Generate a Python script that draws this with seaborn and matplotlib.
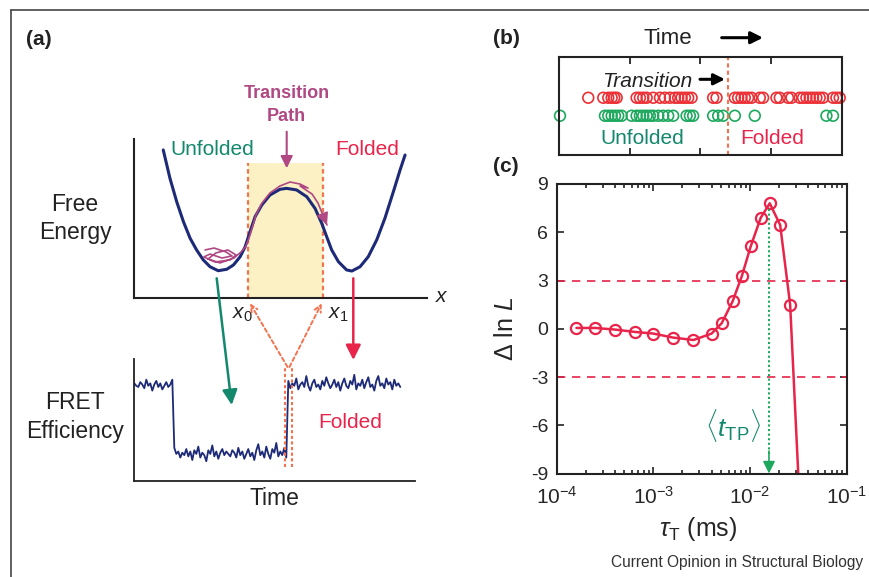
import numpy as np
import pandas as pd
import matplotlib
matplotlib.use("Agg")
import matplotlib.pyplot as plt
import seaborn as sns

# ---- panel (a): schematic double-well free energy along x ----
fe_x = [0.099, 0.122, 0.145, 0.168, 0.191, 0.213, 0.236, 0.259, 0.287, 0.316,
        0.339, 0.362, 0.379, 0.396, 0.413, 0.436, 0.464, 0.498, 0.521, 0.555,
        0.590, 0.618, 0.641, 0.658, 0.675, 0.698, 0.726, 0.744, 0.772, 0.800,
        0.829, 0.857, 0.886, 0.909, 0.926]
fe_g = [0.931, 0.752, 0.605, 0.479, 0.374, 0.301, 0.238, 0.195, 0.170, 0.179,
        0.206, 0.258, 0.321, 0.416, 0.510, 0.584, 0.647, 0.683, 0.689, 0.679,
        0.636, 0.563, 0.469, 0.384, 0.301, 0.227, 0.175, 0.168, 0.195, 0.258,
        0.364, 0.500, 0.668, 0.805, 0.899]

# transition-path trajectory (jiggles in the unfolded well, then crosses)
path_x = [0.242, 0.273, 0.314, 0.334, 0.300, 0.259, 0.238, 0.276, 0.327, 0.348,
          0.320, 0.279, 0.252, 0.293, 0.341, 0.365, 0.382, 0.392, 0.403, 0.416,
          0.437, 0.464, 0.498, 0.533, 0.567, 0.594, 0.567, 0.608, 0.628, 0.645,
          0.659]
path_y = [0.301, 0.313, 0.288, 0.263, 0.250, 0.275, 0.257, 0.225, 0.238, 0.269,
          0.301, 0.282, 0.244, 0.219, 0.250, 0.288, 0.326, 0.376, 0.439, 0.521,
          0.597, 0.660, 0.704, 0.729, 0.716, 0.691, 0.704, 0.653, 0.597, 0.521,
          0.458]

x0_pos, x1_pos = 0.390, 0.646
region_top = 0.847

# FRET efficiency trace: folded -> unfolded -> folded
fret_eff = [0.80, 0.78, 0.77, 0.81, 0.79, 0.76, 0.83, 0.78, 0.80, 0.74,
            0.79, 0.82, 0.77, 0.80, 0.75, 0.78, 0.81, 0.77, 0.79, 0.83,
            0.27, 0.22, 0.24, 0.19, 0.23, 0.21, 0.26, 0.20, 0.24, 0.17,
            0.25, 0.22, 0.28, 0.19, 0.23, 0.21, 0.16, 0.25, 0.22, 0.29,
            0.20, 0.24, 0.18, 0.23, 0.26, 0.21, 0.24, 0.22, 0.20, 0.25,
            0.23, 0.19, 0.27, 0.21, 0.24, 0.18, 0.22, 0.26, 0.20, 0.23,
            0.17, 0.25, 0.30, 0.21, 0.24, 0.19, 0.28, 0.22, 0.18, 0.26,
            0.23, 0.31, 0.20, 0.24, 0.21, 0.27, 0.19,
            0.82, 0.76, 0.80, 0.78, 0.84, 0.75, 0.79, 0.81, 0.77, 0.86,
            0.78, 0.74, 0.80, 0.83, 0.77, 0.79, 0.75, 0.82, 0.78, 0.85,
            0.80, 0.76, 0.79, 0.83, 0.77, 0.81, 0.74, 0.80, 0.84, 0.78,
            0.76, 0.82, 0.79, 0.87, 0.75, 0.80, 0.78, 0.83, 0.76, 0.81,
            0.85, 0.77, 0.79, 0.74, 0.82, 0.86, 0.78, 0.80, 0.76, 0.84,
            0.79, 0.81, 0.75, 0.83, 0.78, 0.80, 0.77]
jump_marks = [75.4, 78.7]

# ---- panel (b): photon arrival times ----
red_times = [0.414, 0.626, 0.697, 0.745, 0.782, 0.816, 1.098, 1.145, 1.192, 1.240,
             1.333, 1.428, 1.498, 1.569, 1.640, 1.686, 1.734, 1.781, 1.828, 1.876,
             2.181, 2.229, 2.488, 2.534, 2.582, 2.629, 2.676, 2.724, 2.841, 2.888,
             3.077, 3.124, 3.241, 3.289, 3.406, 3.453, 3.501, 3.548, 3.594, 3.642,
             3.689, 3.736, 3.877, 3.925, 3.972]
green_times = [0.014, 0.650, 0.697, 0.745, 0.792, 0.838, 0.886, 1.028, 1.098, 1.145,
               1.192, 1.240, 1.286, 1.333, 1.404, 1.474, 1.545, 1.616, 1.805, 1.852,
               1.898, 2.181, 2.252, 2.322, 2.488, 2.770, 3.784, 3.877]
transition_time = 2.39

# ---- panel (c): likelihood vs transition time ----
tau_ms = [1.6e-4, 2.5e-4, 4.0e-4, 6.5e-4, 1.0e-3, 1.6e-3, 2.6e-3, 4.0e-3, 5.1e-3,
          6.6e-3, 8.2e-3, 1.02e-2, 1.29e-2, 1.6e-2, 2.05e-2, 2.6e-2, 3.3e-2]
dlnL = [0.05, 0.05, -0.05, -0.2, -0.3, -0.55, -0.7, -0.3, 0.35,
        1.7, 3.25, 5.15, 6.9, 7.8, 6.45, 1.5, -11.5]
t_tp = 1.57e-2

NAVY = "#1d2a78"
TEAL = "#13886c"
RED = "#e8244a"
MAG = "#b04883"
ORANGE = "#f2734f"
YELLOW = "#fbf1c4"
GREEN_PT = "#1ea85e"
RED_PT = "#ec3035"
DARK = "#222222"

sns.set_theme(style="ticks")
plt.rcParams["font.family"] = ["Liberation Sans", "DejaVu Sans"]
plt.rcParams["mathtext.fontset"] = "custom"
plt.rcParams["mathtext.rm"] = "Liberation Sans"
plt.rcParams["mathtext.it"] = "Liberation Sans:italic"
plt.rcParams["mathtext.bf"] = "Liberation Sans:bold"
plt.rcParams["axes.unicode_minus"] = False

W, H = 869, 577
fig = plt.figure(figsize=(W / 100, H / 100), dpi=100)


def px_axes(l, t, r, b, **kw):
    return fig.add_axes([l / W, 1 - b / H, (r - l) / W, (b - t) / H], **kw)


def style_spines(ax, lw=1.5):
    for s in ax.spines.values():
        s.set_color(DARK)
        s.set_linewidth(lw)


# free energy
axfe = px_axes(134.3, 139, 426.7, 297.7)
axfe.fill_between([x0_pos, x1_pos], 0, region_top, color=YELLOW, lw=0)
for xv in (x0_pos, x1_pos):
    axfe.plot([xv, xv], [0, region_top], color=ORANGE, lw=1.6, ls=(0, (2, 1.5)))
sns.lineplot(x=fe_x, y=fe_g, ax=axfe, color=NAVY, lw=2.2, sort=False, estimator=None)
sns.lineplot(x=path_x, y=path_y, ax=axfe, color=MAG, lw=1.2, sort=False, estimator=None)
axfe.annotate("", xy=(path_x[-1], path_y[-1]), xytext=(path_x[-2], path_y[-2]),
              arrowprops=dict(arrowstyle="-|>,head_length=0.6,head_width=0.3",
                              color=MAG, lw=1.2, mutation_scale=12, shrinkA=0, shrinkB=0))
axfe.set(xlim=(0, 1), ylim=(0, 1), xticks=[], yticks=[], xlabel="", ylabel="")
sns.despine(ax=axfe)
style_spines(axfe)

# FRET trace
axfr = px_axes(134.3, 359, 415, 480.7)
sns.lineplot(x=np.arange(len(fret_eff)), y=fret_eff, ax=axfr, color=NAVY, lw=1.3)
axfr.vlines(jump_marks, 0.115, 0.937, colors=ORANGE, linestyles=(0, (1.5, 1.2)), lw=1.5)
axfr.set(xlim=(0, 140.35), ylim=(0, 1), xticks=[], yticks=[], xlabel="", ylabel="")
sns.despine(ax=axfr)
style_spines(axfr, 1.3)

# panel (b)
axb = px_axes(559, 56.7, 841.7, 155)
axb.axvline(transition_time, color=ORANGE, lw=1.5, ls=(0, (2, 1.5)))
sns.scatterplot(x=red_times, y=[1] * len(red_times), ax=axb, marker="o", s=60,
                facecolors="none", edgecolor=RED_PT, linewidth=1.2, clip_on=False)
sns.scatterplot(x=green_times, y=[0] * len(green_times), ax=axb, marker="o", s=60,
                facecolors="none", edgecolor=GREEN_PT, linewidth=1.2, clip_on=False)
axb.set(xlim=(0, 4), ylim=(-2.18, 3.28), xticks=[1, 2, 3], yticks=[], xlabel="", ylabel="")
axb.tick_params(axis="x", direction="in", top=True, bottom=True, labelbottom=False,
                length=5, width=1.3, color=DARK)
style_spines(axb)

# panel (c)
axc = px_axes(556.7, 184, 846.7, 473.5)
axc.set_xscale("log")
axc.axhline(3, color=RED, lw=1.2, ls=(0, (5, 4)))
axc.axhline(-3, color=RED, lw=1.2, ls=(0, (5, 4)))
sns.lineplot(x=tau_ms, y=dlnL, ax=axc, color=RED, lw=1.8, sort=False, estimator=None,
             marker="o", ms=8, mfc="none", mec=RED, mew=1.6,
             markevery=list(range(len(tau_ms) - 1)))
axc.plot([t_tp, t_tp], [7.45, -7.8], color=GREEN_PT, lw=1.5, ls=(0, (1, 1.2)))
axc.annotate("", xy=(t_tp, -9), xytext=(t_tp, -7.6),
             arrowprops=dict(arrowstyle="-|>,head_length=0.6,head_width=0.3",
                             color=GREEN_PT, lw=1.2, mutation_scale=12, shrinkA=0, shrinkB=0))
axc.text(1.3e-2, -6, r"$\langle t_{\mathrm{TP}}\rangle$", color=TEAL, fontsize=19,
         ha="right", va="center")
axc.set(xlim=(1e-4, 1e-1), ylim=(-9, 9), yticks=range(-9, 10, 3))
axc.tick_params(which="both", direction="in", top=True, right=True, color=DARK, width=1.2)
axc.tick_params(which="major", length=5)
axc.tick_params(which="minor", length=3)
axc.tick_params(axis="y", labelsize=14, pad=6)
axc.tick_params(axis="x", labelsize=15, pad=9)
axc.set_xlabel(r"$\tau_{\mathrm{T}}$ (ms)", fontsize=18)
axc.set_ylabel(r"$\Delta$ ln $L$", fontsize=18)
axc.xaxis.set_label_coords(0.486, -0.145)
axc.yaxis.set_label_coords(-0.135, 0.5)
style_spines(axc)

# overlay for labels, arrows and frame
ov = fig.add_axes([0, 0, 1, 1], zorder=5)
ov.set_xlim(0, W)
ov.set_ylim(H, 0)
ov.axis("off")
ov.plot([11, W], [10, 10], color="#444444", lw=1.2)
ov.plot([11, 11], [10, H], color="#444444", lw=1.2)


def label(x, y, s, size=15, color=DARK, **kw):
    ov.text(x, y, s, fontsize=size, color=color, va="baseline", **kw)


def arrow(x1, y1, x2, y2, color, lw=1.8, scale=15, ls="-", style="-|>,head_length=0.6,head_width=0.3"):
    ov.annotate("", xy=(x2, y2), xytext=(x1, y1),
                arrowprops=dict(arrowstyle=style, color=color, lw=lw, ls=ls,
                                mutation_scale=scale, shrinkA=0, shrinkB=0))


label(26, 45, "(a)", weight="bold")
label(286.7, 98.3, "Transition", 13, MAG, weight="bold", ha="center")
label(286.7, 120.7, "Path", 13, MAG, weight="bold", ha="center")
arrow(286.7, 131.7, 286.7, 168.3, MAG, lw=1.5, scale=12)
label(170, 155, "Unfolded", 15, TEAL)
label(335, 155, "Folded", 15, RED)
label(75, 210.7, "Free", 16.5, ha="center")
label(75, 239.3, "Energy", 16.5, ha="center")
label(435, 302, r"$x$", 15)
label(231.7, 318.3, r"$x_0$", 15)
label(328.3, 318.3, r"$x_1$", 15)
arrow(216.7, 278.3, 231.7, 405, TEAL)
arrow(353.3, 278.3, 353.3, 360, RED)
arrow(287.5, 367, 250, 303.3, ORANGE, lw=1.4, scale=12, ls=(0, (2, 1.5)), style="->")
arrow(289.5, 367, 321.7, 303.3, ORANGE, lw=1.4, scale=12, ls=(0, (2, 1.5)), style="->")
label(75, 409.3, "FRET", 16.5, ha="center")
label(75, 438.3, "Efficiency", 16.5, ha="center")
label(318.3, 427.7, "Folded", 15, RED)
label(274, 505, "Time", 16.5, ha="center")

label(493.3, 44.3, "(b)", weight="bold")
label(643.3, 44, "Time", 16)
arrow(721.7, 37.7, 763, 37.7, "black", lw=2.2, scale=12)
label(601.7, 87.3, "Transition", 15, style="italic")
arrow(700, 79.3, 725, 79.3, "black", lw=2.2, scale=11)
label(600.7, 144, "Unfolded", 15, TEAL)
label(740, 144, "Folded", 15, RED)

label(493.3, 172, "(c)", weight="bold")
label(863.3, 566.7, "Current Opinion in Structural Biology", 11.2, "#333333", ha="right")

fig.savefig("out.png", dpi=100)
